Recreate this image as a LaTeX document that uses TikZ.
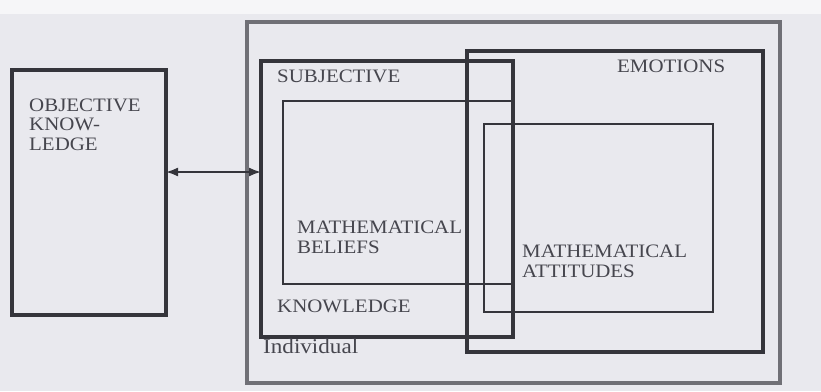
\documentclass[tikz,border=0pt]{standalone}
\usepackage{fontspec}
\setmainfont{Liberation Serif}
\usetikzlibrary{arrows.meta}
\definecolor{paper}{HTML}{E9E9EE}
\definecolor{ink}{HTML}{35353B}
\definecolor{frame}{HTML}{707076}
\definecolor{txt}{HTML}{46464E}
\tikzset{
  boxthick/.style={draw=ink, line width=3.2pt, inner sep=0pt, outer sep=0pt},
  boxthin/.style={draw=ink, line width=1.9pt, inner sep=0pt, outer sep=0pt},
  boxframe/.style={draw=frame, line width=4.2pt, inner sep=0pt, outer sep=0pt},
  lbl/.style={text=txt, inner sep=0pt, anchor=base west, align=left,
    xscale=1.1, transform shape,
    font=\fontsize{19}{19.5}\selectfont},
}
\begin{document}
\begin{tikzpicture}[x=1pt,y=-1pt]
\useasboundingbox (0,0) rectangle (821,391);
\fill[paper] (0,0) rectangle (821,391);
\fill[white!60!paper] (0,0) rectangle (821,14);
% outer individual frame
\node[boxframe, minimum width=533pt, minimum height=361pt] (ind) at (513.5,202.5) {};
% objective knowledge
\node[boxthick, minimum width=154pt, minimum height=245pt] (obj) at (89,192.5) {};
% subjective knowledge
\node[boxthick, minimum width=252pt, minimum height=276pt] (subj) at (387,199) {};
% emotions
\node[boxthick, minimum width=296pt, minimum height=301pt] (emo) at (615,201.5) {};
% mathematical beliefs
\node[boxthin, minimum width=230pt, minimum height=183pt] (bel) at (398,192.5) {};
% mathematical attitudes
\node[boxthin, minimum width=229pt, minimum height=188pt] (att) at (598.5,218) {};
% arrow
\coordinate (ay) at (0,172);
\draw[ink, line width=1.8pt, {Latex[length=12pt,width=9pt]}-{Latex[length=12pt,width=9pt]}] (obj.east|-ay) -- (subj.west|-ay);
% labels (base = baseline of last line)
\node[lbl] (tobj) at (29,150) {OBJECTIVE\\KNOW-\\LEDGE};
\node[lbl] (tsubj) at (277,82) {SUBJECTIVE};
\node[lbl] (temo) at (617,72) {EMOTIONS};
\node[lbl] (tbel) at (297,253) {MATHEMATICAL\\BELIEFS};
\node[lbl] (tatt) at (522,277) {MATHEMATICAL\\ATTITUDES};
\node[lbl] (tknow) at (277,312) {KNOWLEDGE};
\node[lbl, font=\fontsize{21}{21}\selectfont] (tind) at (263,353) {Individual};
\end{tikzpicture}
\end{document}
